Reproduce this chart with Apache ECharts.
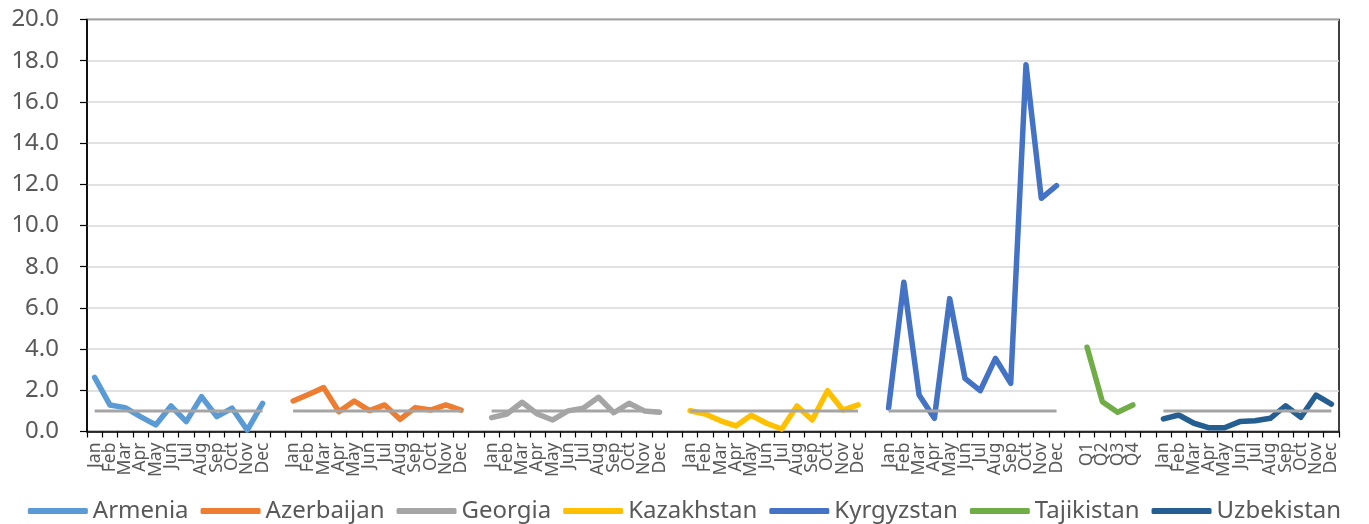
<!DOCTYPE html>
<html>
<head>
<meta charset="utf-8">
<script src="https://cdn.jsdelivr.net/npm/echarts@6/dist/echarts.min.js"></script>
<style>
  html, body { margin: 0; padding: 0; background: #fff; }
  #chart { width: 1369px; height: 524px; }
</style>
</head>
<body>
<div id="chart"></div>
<script>
const months = ['Jan', 'Feb', 'Mar', 'Apr', 'May', 'Jun', 'Jul', 'Aug', 'Sep', 'Oct', 'Nov', 'Dec']
const quarters = ['Q1', 'Q2', 'Q3', 'Q4']

const countries = ['Armenia', 'Azerbaijan', 'Georgia', 'Kazakhstan', 'Kyrgyzstan', 'Tajikistan', 'Uzbekistan']
const colors = ['#5B9BD5', '#ED7D31', '#A5A5A5', '#FFC000', '#4472C4', '#70AD47', '#255E91']

const armenia = [2.63, 1.29, 1.16, 0.72, 0.32, 1.24, 0.48, 1.69, 0.72, 1.13, 0.07, 1.37]
const azerbaijan = [1.48, 1.8, 2.13, 0.96, 1.48, 1.01, 1.29, 0.59, 1.16, 1.04, 1.29, 1.04]
const georgia = [0.67, 0.85, 1.42, 0.85, 0.56, 1.0, 1.13, 1.66, 0.91, 1.37, 1.0, 0.93]
const kazakhstan = [1.01, 0.85, 0.52, 0.27, 0.79, 0.4, 0.12, 1.24, 0.56, 1.98, 1.04, 1.29]
const kyrgyzstan = [1.15, 7.25, 1.77, 0.64, 6.45, 2.58, 1.98, 3.55, 2.34, 17.8, 11.32, 11.93]
const tajikistan = [4.09, 1.45, 0.93, 1.29]
const uzbekistan = [0.61, 0.8, 0.4, 0.18, 0.18, 0.48, 0.52, 0.64, 1.25, 0.69, 1.77, 1.33]

// reference level drawn under each monthly group (none for the quarterly one)
const benchmarkByGroup = [1.0, 1.0, 1.0, 1.0, 1.0, null, 1.0]

const groupValues = [armenia, azerbaijan, georgia, kazakhstan, kyrgyzstan, tajikistan, uzbekistan]
const groupLabels = [months, months, months, months, months, quarters, months]

// build the shared category axis: groups separated by one blank slot
const categories = []
const offsets = []
groupLabels.forEach((labels, i) => {
  if (i > 0) categories.push('')
  offsets.push(categories.length)
  labels.forEach(l => categories.push(l))
})

function spread(i, vals) {
  const arr = new Array(categories.length).fill(null)
  vals.forEach((v, k) => { arr[offsets[i] + k] = v })
  return arr
}

const benchmark = new Array(categories.length).fill(null)
benchmarkByGroup.forEach((b, i) => {
  if (b == null) return
  groupLabels[i].forEach((_, k) => { benchmark[offsets[i] + k] = b })
})

const font = 'Noto Sans'
const textColor = '#595959'

const series = countries.map((name, i) => ({
  name,
  type: 'line',
  data: spread(i, groupValues[i]),
  showSymbol: false,
  symbol: 'none',
  connectNulls: false,
  itemStyle: { color: colors[i] },
  lineStyle: { width: 5.5, color: colors[i], cap: 'round', join: 'round' },
  emphasis: { disabled: true },
  z: 2
}))

series.push({
  name: 'benchmark',
  type: 'line',
  data: benchmark,
  symbol: 'none',
  connectNulls: false,
  itemStyle: { color: '#A5A5A5' },
  lineStyle: { width: 3, color: '#A5A5A5' },
  emphasis: { disabled: true },
  silent: true,
  z: 3
})

const chart = echarts.init(document.getElementById('chart'), null, { renderer: 'canvas' })
chart.setOption({
  animation: false,
  color: colors,
  textStyle: { fontFamily: font },
  grid: {
    left: 87, right: 30, top: 19.5, bottom: 92.5,
    show: true, borderColor: '#000', borderWidth: 1.5, backgroundColor: 'transparent'
  },
  legend: {
    data: countries,
    top: 494,
    left: 'center',
    icon: 'roundRect',
    itemWidth: 60,
    itemHeight: 6,
    itemGap: 12,
    textStyle: { fontFamily: font, fontSize: 24, color: textColor }
  },
  xAxis: {
    type: 'category',
    data: categories,
    boundaryGap: true,
    axisLine: { lineStyle: { color: '#000', width: 1.5 } },
    axisTick: { show: true, length: 6, interval: 0, lineStyle: { color: '#000', width: 1.2 } },
    axisLabel: {
      interval: 0, rotate: 90, margin: 11,
      fontFamily: font, fontSize: 17.5, color: textColor
    },
    splitLine: { show: false }
  },
  yAxis: {
    type: 'value',
    min: 0, max: 20, interval: 2,
    axisLine: { show: true, lineStyle: { color: '#000', width: 1.5 } },
    axisTick: { show: true, inside: false, length: 7, lineStyle: { color: '#000', width: 1.2 } },
    axisLabel: {
      margin: 28, fontFamily: font, fontSize: 24, color: textColor,
      formatter: v => v.toFixed(1)
    },
    splitLine: { lineStyle: { color: '#D9D9D9', width: 1.5 } }
  },
  series
})
</script>
</body>
</html>
